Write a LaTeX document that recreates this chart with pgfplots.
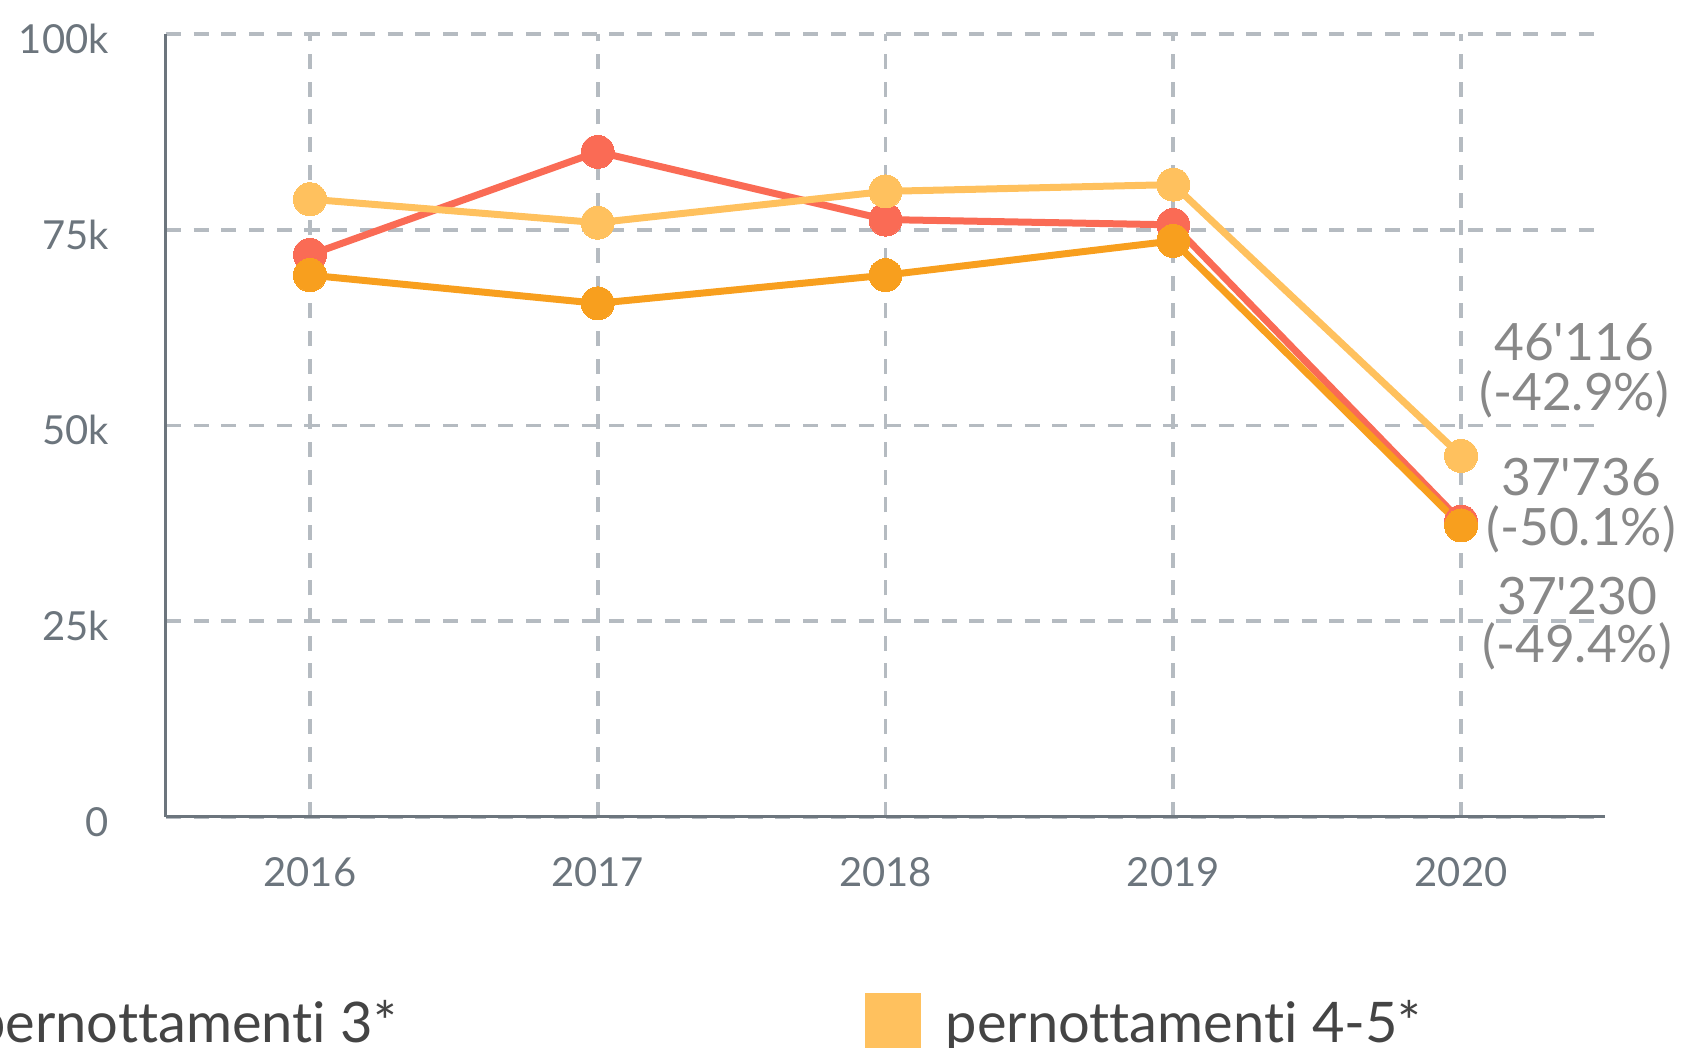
\documentclass[border=0pt]{standalone}
\usepackage{fontspec}
\newfontfamily\lato{Lato}[Ligatures={NoCommon}]
\usepackage{pgfplots}
\pgfplotsset{compat=1.18}
\definecolor{cred}{HTML}{FA6B55}
\definecolor{clight}{HTML}{FFC15E}
\definecolor{corange}{HTML}{F89F1E}
\definecolor{axisgray}{HTML}{6C757D}
\definecolor{gridgray}{HTML}{B5BBC1}
\definecolor{annot}{HTML}{888888}
\definecolor{legtext}{HTML}{444444}
\begin{document}
\begin{tikzpicture}[x=1pt,y=1pt]
\path[use as bounding box] (-166,-231) rectangle (1515,817);
\begin{axis}[
  at={(0pt,0pt)}, anchor=south west,
  scale only axis, width=1439pt, height=783pt,
  xmin=2015.5, xmax=2020.5, ymin=0, ymax=100000,
  axis x line=bottom, axis y line=left,
  axis line style={draw=axisgray, line width=3pt, -},
  xtick={2016,2017,2018,2019,2020},
  xticklabels={2016,2017,2018,2019,2020},
  ytick={0,25000,50000,75000,100000},
  yticklabels={0,25k,50k,75k,100k},
  scaled y ticks=false,
  /pgf/number format/assume math mode=true,
  major tick length=0pt,
  tick style={draw=none},
  grid=major,
  major grid style={draw=gridgray, line width=3.8pt, dash pattern=on 15pt off 12.7pt},
  ticklabel style={font=\lato\fontsize{40}{42}\selectfont, text=axisgray, inner sep=0pt},
  xticklabel style={anchor=base, yshift=-69.7pt},
  yticklabel style={anchor=base east, xshift=-57pt, yshift=-19.5pt},
  clip=false,
  every axis plot/.append style={line width=7pt, line join=round, mark=*, mark size=16.5pt},
]
\addplot[cred, mark options={line width=0pt, fill=cred, draw=cred}] coordinates {
  (2016,71800) (2017,84950) (2018,76300) (2019,75623) (2020,37736)};
\addplot[clight, mark options={line width=0pt, fill=clight, draw=clight}] coordinates {
  (2016,78900) (2017,75900) (2018,79900) (2019,80764) (2020,46116)};
\addplot[corange, mark options={line width=0pt, fill=corange, draw=corange}] coordinates {
  (2016,69200) (2017,65600) (2018,69200) (2019,73577) (2020,37230)};

\tikzset{lab/.style={anchor=base, font=\lato\fontsize{51.5}{53}\selectfont, text=annot, inner sep=0pt}}
\node[lab, xshift=113pt, yshift=95.9pt] at (axis cs:2020,46116) {46'116};
\node[lab, xshift=113pt, yshift=45.9pt] at (axis cs:2020,46116) {(-42.9\%)};
\node[lab, xshift=120pt, yshift=26.5pt] at (axis cs:2020,37736) {37'736};
\node[lab, xshift=120pt, yshift=-23.5pt] at (axis cs:2020,37736) {(-50.1\%)};
\node[lab, xshift=116pt, yshift=-89.5pt] at (axis cs:2020,37230) {37'230};
\node[lab, xshift=116pt, yshift=-137.5pt] at (axis cs:2020,37230) {(-49.4\%)};
\end{axis}
% legend
\fill[corange] (-330,-176) rectangle (-274,-232);
\node[anchor=base east, inner sep=0pt, font=\lato\fontsize{56}{58}\selectfont, text=legtext] at (231,-226) {pernottamenti 3*};
\fill[clight] (699,-176) rectangle (755,-232);
\node[anchor=base west, inner sep=0pt, font=\lato\fontsize{56}{58}\selectfont, text=legtext] at (779.6,-226) {pernottamenti 4-5*};
\end{tikzpicture}
\end{document}
